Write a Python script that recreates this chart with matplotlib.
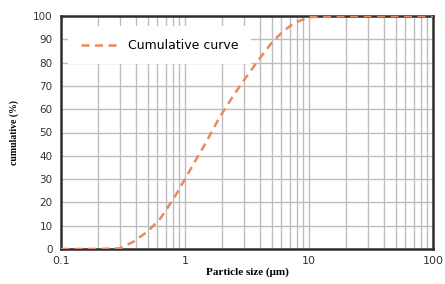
import matplotlib
matplotlib.use("Agg")
import matplotlib.pyplot as plt
from matplotlib.ticker import LogLocator, FixedLocator, FixedFormatter, NullFormatter

# particle size (um) and cumulative (%)
size_um = [0.1, 0.2, 0.3, 0.38, 0.5, 0.63, 0.72, 0.85, 1.0, 1.2, 1.45,
           1.9, 2.4, 2.9, 3.9, 5.0, 6.2, 7.6, 10.0, 20.0, 50.0, 100.0]
cumulative = [0.0, 0.0, 0.3, 3.0, 7.5, 13.0, 17.5, 23.5, 30.0, 37.5, 45.0,
              56.5, 65.0, 71.5, 81.0, 88.5, 93.5, 97.0, 99.5, 100.0, 100.0, 100.0]

x_ticks = [0.1, 1, 10, 100]
x_tick_labels = ['0.1', '1', '10', '100']
y_ticks = list(range(0, 101, 10))

fig = plt.figure(figsize=(4.45, 2.84), dpi=100)
ax = fig.add_axes([61 / 445, 1 - 249 / 284, 372 / 445, 233 / 284])

ax.plot(size_um, cumulative, linestyle=(0, (3.2, 2.2)), color='#e88a5e',
        linewidth=1.8, label='Cumulative curve', zorder=3)

ax.set_xscale('log')
ax.set_xlim(0.1, 100)
ax.set_ylim(0, 100)
ax.xaxis.set_major_locator(FixedLocator(x_ticks))
ax.xaxis.set_major_formatter(FixedFormatter(x_tick_labels))
ax.xaxis.set_minor_locator(LogLocator(base=10, subs=range(2, 10)))
ax.xaxis.set_minor_formatter(NullFormatter())
ax.set_yticks(y_ticks)

ax.grid(which='both', axis='x', color='#bdbdbd', linewidth=1.0)
ax.grid(which='major', axis='y', color='#bdbdbd', linewidth=1.0)
ax.set_axisbelow(True)

for s in ax.spines.values():
    s.set_color('#2e2e2e')
    s.set_linewidth(1.8)

ax.tick_params(which='both', length=0)
ax.tick_params(axis='y', labelsize=7.5, colors='#333333', pad=6)
ax.tick_params(axis='x', labelsize=8, colors='#333333', pad=5)

ax.set_xlabel('Particle size (\u03bcm)', family='Liberation Serif',
              fontweight='bold', fontsize=8, labelpad=1)
ax.set_ylabel('cumulative (%)', family='Liberation Serif',
              fontweight='bold', fontsize=7, labelpad=10)

leg = ax.legend(loc='upper left', bbox_to_anchor=(0.02, 0.955), frameon=True,
                fontsize=9, handlelength=3.0, borderpad=1.0,
                borderaxespad=0, fancybox=False)
leg.get_frame().set_facecolor('white')
leg.get_frame().set_edgecolor('none')
leg.get_frame().set_alpha(1)

fig.savefig('out.png', dpi=100)
